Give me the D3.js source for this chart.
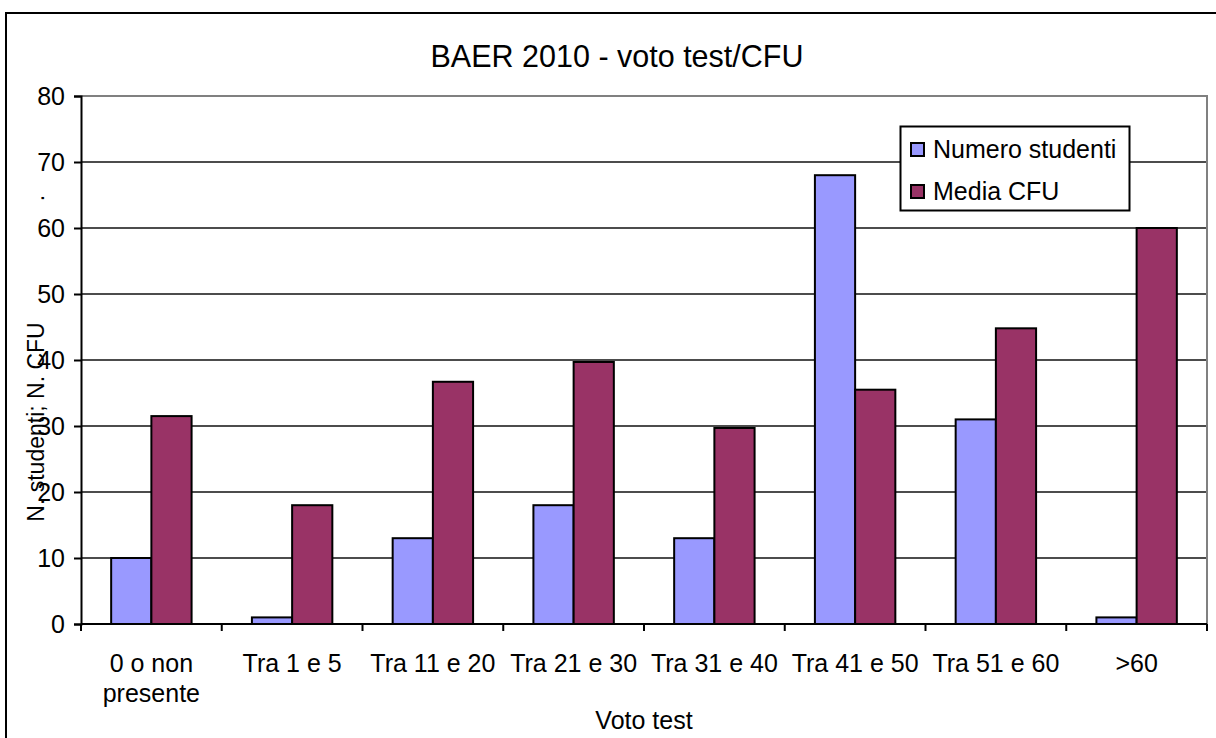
<!DOCTYPE html>
<html>
<head>
<meta charset="utf-8">
<script src="https://cdn.jsdelivr.net/npm/d3@7"></script>
<style>
  html, body { margin: 0; padding: 0; background: #fff; }
  svg { display: block; font-family: "Liberation Sans", Arial, sans-serif; }
</style>
</head>
<body>
<div id="chart"></div>
<script>
// data
var categories = ['0 o non presente', 'Tra 1 e 5', 'Tra 11 e 20', 'Tra 21 e 30',
  'Tra 31 e 40', 'Tra 41 e 50', 'Tra 51 e 60', '>60'];
var categoryLines = [['0 o non', 'presente'], ['Tra 1 e 5'], ['Tra 11 e 20'], ['Tra 21 e 30'],
  ['Tra 31 e 40'], ['Tra 41 e 50'], ['Tra 51 e 60'], ['>60']];
var seriesNames = ['Numero studenti', 'Media CFU'];
var numeroStudenti = [10, 1, 13, 18, 13, 68, 31, 1];
var mediaCFU = [31.5, 18, 36.7, 39.7, 29.7, 35.5, 44.8, 60];
var yTicks = [0, 10, 20, 30, 40, 50, 60, 70, 80];
var colors = ['#9999ff', '#993366'];

var W = 1216, H = 738;
var plot = { left: 81, right: 1207, top: 96, bottom: 624 };

var svg = d3.select('#chart').append('svg')
  .attr('width', W).attr('height', H);

// outer chart frame (runs off the right and bottom)
svg.append('rect')
  .attr('x', 6).attr('y', 13)
  .attr('width', W + 10).attr('height', H + 10)
  .attr('fill', '#fff').attr('stroke', '#000').attr('stroke-width', 2);

var x = d3.scaleBand().domain(categories).range([plot.left, plot.right]);
var xs = d3.scaleBand().domain(seriesNames).range([0, x.bandwidth()])
  .paddingInner(0).paddingOuter(0.75);
var y = d3.scaleLinear().domain([0, 80]).range([plot.bottom, plot.top]);

// grid lines
svg.append('g').selectAll('line')
  .data(yTicks.filter(function(d) { return d > 0 && d < 80; }))
  .enter().append('line')
  .attr('x1', plot.left).attr('x2', plot.right)
  .attr('y1', function(d) { return y(d); })
  .attr('y2', function(d) { return y(d); })
  .attr('stroke', '#111').attr('stroke-width', 1.5);

// plot area border top/right (grey)
svg.append('path')
  .attr('d', 'M' + plot.left + ',' + plot.top + 'H' + plot.right + 'V' + plot.bottom)
  .attr('fill', 'none').attr('stroke', '#808080').attr('stroke-width', 2);

// bars
var rows = categories.map(function(c, i) {
  return { cat: c, vals: [numeroStudenti[i], mediaCFU[i]] };
});
var groups = svg.append('g').selectAll('g')
  .data(rows).enter().append('g')
  .attr('transform', function(d) { return 'translate(' + x(d.cat) + ',0)'; });
groups.selectAll('rect')
  .data(function(d) { return d.vals.map(function(v, j) { return { s: seriesNames[j], v: v, j: j }; }); })
  .enter().append('rect')
  .attr('x', function(d) { return xs(d.s); })
  .attr('width', xs.bandwidth())
  .attr('y', function(d) { return y(d.v); })
  .attr('height', function(d) { return y(0) - y(d.v); })
  .attr('fill', function(d) { return colors[d.j]; })
  .attr('stroke', '#000').attr('stroke-width', 2);

// y axis
var yAxis = d3.axisLeft(y).tickValues(yTicks).tickSize(7).tickPadding(9);
var gy = svg.append('g').attr('transform', 'translate(' + plot.left + ',0)').call(yAxis);
gy.select('.domain').attr('stroke', '#000').attr('stroke-width', 2);
gy.selectAll('.tick line').attr('stroke', '#000').attr('stroke-width', 2);
gy.selectAll('.tick text').attr('font-size', 25).attr('fill', '#000')
  .attr('font-family', '"Liberation Sans", Arial, sans-serif');

// x axis
var xTickPos = categories.map(function(c) { return x(c); }).concat([plot.right]);
svg.append('line')
  .attr('x1', plot.left).attr('x2', plot.right)
  .attr('y1', plot.bottom).attr('y2', plot.bottom)
  .attr('stroke', '#000').attr('stroke-width', 2);
svg.append('g').selectAll('line')
  .data(xTickPos).enter().append('line')
  .attr('x1', function(d) { return d; }).attr('x2', function(d) { return d; })
  .attr('y1', plot.bottom).attr('y2', plot.bottom + 7)
  .attr('stroke', '#000').attr('stroke-width', 2);

var xl = svg.append('g').selectAll('text')
  .data(categories).enter().append('text')
  .attr('text-anchor', 'middle')
  .attr('font-size', 25)
  .attr('x', function(d) { return x(d) + x.bandwidth() / 2; })
  .attr('y', 672);
xl.selectAll('tspan')
  .data(function(d, i) { return categoryLines[i]; })
  .enter().append('tspan')
  .attr('x', function() { return d3.select(this.parentNode).attr('x'); })
  .attr('dy', function(d, i) { return i === 0 ? 0 : 30; })
  .text(function(d) { return d; });

// titles
svg.append('text')
  .attr('x', 617).attr('y', 67)
  .attr('text-anchor', 'middle').attr('font-size', 30.5)
  .text('BAER 2010 - voto test/CFU');

svg.append('text')
  .attr('x', (plot.left + plot.right) / 2).attr('y', 729)
  .attr('text-anchor', 'middle').attr('font-size', 25)
  .text('Voto test');

svg.append('text')
  .attr('transform', 'translate(44,422) rotate(-90)')
  .attr('text-anchor', 'middle').attr('font-size', 23)
  .text('N. studenti; N. CFU');
svg.append('text')
  .attr('transform', 'translate(44,198) rotate(-90)')
  .attr('text-anchor', 'middle').attr('font-size', 23)
  .text('.');

// legend
var lg = svg.append('g');
lg.append('rect')
  .attr('x', 900.5).attr('y', 126.5).attr('width', 229).attr('height', 84)
  .attr('fill', '#fff').attr('stroke', '#000').attr('stroke-width', 2);
var li = lg.selectAll('g.item').data(seriesNames).enter().append('g')
  .attr('transform', function(d, i) { return 'translate(911,' + (143 + i * 42) + ')'; });
li.append('rect')
  .attr('width', 13).attr('height', 13)
  .attr('fill', function(d, i) { return colors[i]; })
  .attr('stroke', '#000').attr('stroke-width', 2);
li.append('text')
  .attr('x', 22).attr('y', 15)
  .attr('font-size', 25)
  .text(function(d) { return d; });
</script>
</body>
</html>
